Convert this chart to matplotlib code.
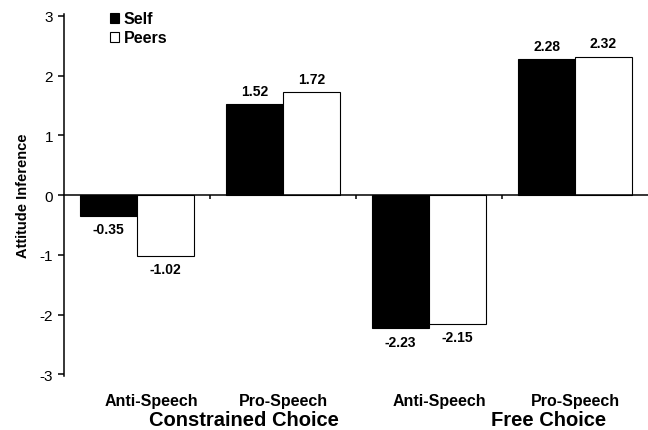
import matplotlib
matplotlib.use("Agg")
import matplotlib.pyplot as plt
import numpy as np

plt.rcParams["font.family"] = ["Liberation Sans", "DejaVu Sans"]

conditions = ["Anti-Speech", "Pro-Speech", "Anti-Speech", "Pro-Speech"]
groups = ["Constrained Choice", "Free Choice"]
self_vals = [-0.35, 1.52, -2.23, 2.28]
peer_vals = [-1.02, 1.72, -2.15, 2.32]
series_names = ["Self", "Peers"]
y_ticks = [-3, -2, -1, 0, 1, 2, 3]

x = np.arange(len(conditions))
width = 0.39

fig = plt.figure(figsize=(6.48, 4.31), dpi=100)
ax = fig.add_axes([0.099, 0.125, 0.901, 0.84])

b_self = ax.bar(x - width / 2, self_vals, width, color="black", edgecolor="black",
                linewidth=0.8, label=series_names[0])
b_peer = ax.bar(x + width / 2, peer_vals, width, color="white", edgecolor="black",
                linewidth=0.8, label=series_names[1])

for bars, vals in [(b_self, self_vals), (b_peer, peer_vals)]:
    for rect, v in zip(bars, vals):
        cx = rect.get_x() + rect.get_width() / 2
        if v >= 0:
            ax.annotate(f"{v:.2f}", (cx, v), xytext=(0, 4.5), textcoords="offset points",
                        ha="center", va="bottom", fontsize=10, fontweight="bold")
        else:
            ax.annotate(f"{v:.2f}", (cx, v), xytext=(0, -4.5), textcoords="offset points",
                        ha="center", va="top", fontsize=10, fontweight="bold")

ax.set_xlim(-0.5, 3.5)
ax.set_ylim(-3.03, 3.03)
ax.set_yticks(y_ticks)
ax.set_yticklabels([str(t) for t in y_ticks], fontsize=11)
ax.set_xticks([0.5, 1.5, 2.5])
ax.set_xticklabels([])
ax.tick_params(axis="y", direction="out", length=4, width=1.1, pad=4)
ax.tick_params(axis="x", direction="out", length=3, width=1.1)

ax.spines["top"].set_visible(False)
ax.spines["right"].set_visible(False)
ax.spines["bottom"].set_position(("data", 0))
ax.spines["left"].set_linewidth(1.1)
ax.spines["bottom"].set_linewidth(1.1)

ax.set_ylabel("Attitude Inference", fontsize=10.5, fontweight="bold", labelpad=7)

# condition labels under the plot, then group labels
cond_shift = [0.1, 0.0, 0.07, 0.0]
for xi, lab, s in zip(x, conditions, cond_shift):
    ax.text(xi + s, -3.44, lab, ha="center", va="center", fontsize=11.5,
            fontweight="bold", clip_on=False)
for gx, g in zip([0.73, 2.82], groups):
    ax.text(gx, -3.755, g, ha="center", va="center", fontsize=14.5,
            fontweight="bold", clip_on=False)

ax.legend(loc="upper left", bbox_to_anchor=(0.068, 1.025), frameon=False,
          handlelength=0.55, handleheight=0.55, handletextpad=0.3,
          labelspacing=0.25, borderaxespad=0,
          prop={"size": 11.5, "weight": "bold"})

fig.savefig("out.png", dpi=100)
